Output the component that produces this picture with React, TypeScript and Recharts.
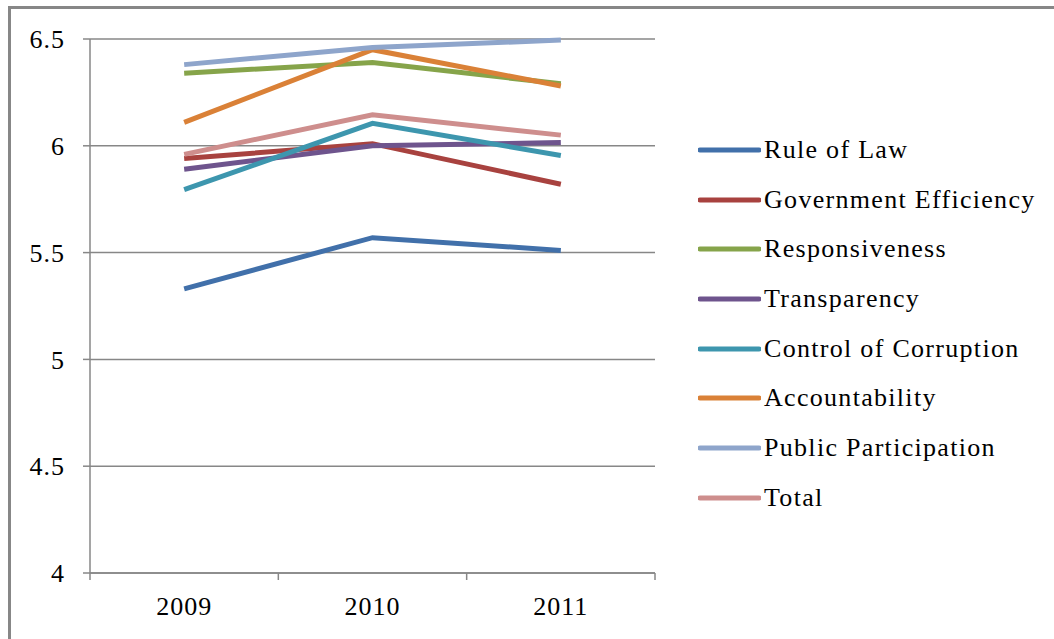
import { LineChart, Line, XAxis, YAxis, CartesianGrid, Legend } from 'recharts'

const YEARS = ['2009', '2010', '2011']
const RULE_OF_LAW = [5.33, 5.57, 5.51]
const GOV_EFFICIENCY = [5.94, 6.01, 5.82]
const RESPONSIVENESS = [6.34, 6.39, 6.29]
const TRANSPARENCY = [5.89, 6.0, 6.015]
const CONTROL_OF_CORRUPTION = [5.795, 6.105, 5.955]
const ACCOUNTABILITY = [6.11, 6.45, 6.28]
const PUBLIC_PARTICIPATION = [6.38, 6.46, 6.495]
const TOTAL = [5.96, 6.145, 6.05]
const Y_TICKS = [4, 4.5, 5, 5.5, 6, 6.5]

const SERIES = [
    { key: 'rule', name: 'Rule of Law', values: RULE_OF_LAW, color: '#4170AA' },
    { key: 'gov', name: 'Government Efficiency', values: GOV_EFFICIENCY, color: '#A8423F' },
    { key: 'resp', name: 'Responsiveness', values: RESPONSIVENESS, color: '#86A44A' },
    { key: 'trans', name: 'Transparency', values: TRANSPARENCY, color: '#6E548D' },
    { key: 'corr', name: 'Control of Corruption', values: CONTROL_OF_CORRUPTION, color: '#3D96AE' },
    { key: 'acc', name: 'Accountability', values: ACCOUNTABILITY, color: '#DA8137' },
    { key: 'pub', name: 'Public Participation', values: PUBLIC_PARTICIPATION, color: '#8EA5CB' },
    { key: 'total', name: 'Total', values: TOTAL, color: '#CE8E8D' },
]

const data = YEARS.map((year, i) => {
    const row: any = { year }
    SERIES.forEach((s) => { row[s.key] = s.values[i] })
    return row
})

const W = 1054
const H = 639
const MARGIN = { top: 39, right: 49, bottom: 0, left: 0 }
const Y_AXIS_W = 90
const LEGEND_W = 350
const PLOT_W = W - MARGIN.left - MARGIN.right - LEGEND_W - Y_AXIS_W
const STEP = PLOT_W / YEARS.length
const AXIS = '#878787'
const FONT = "'Liberation Serif', 'Times New Roman', serif"

// Excel style: tick marks sit between categories, labels in the middle
function YearTick(props: any) {
    const { x, y, payload, index } = props
    const top = y - 7
    return (
        <g>
            <line x1={x + STEP / 2} y1={top} x2={x + STEP / 2} y2={top + 7} stroke={AXIS} strokeWidth={1.5} />
            {index === 0 && <line x1={x - STEP / 2} y1={top} x2={x - STEP / 2} y2={top + 7} stroke={AXIS} strokeWidth={1.5} />}
            <text x={x} y={y} dy={35} textAnchor="middle" fontSize={26} style={{ fontFamily: FONT }} fill="#000" letterSpacing={1}>
                {payload.value}
            </text>
        </g>
    )
}

function LegendBox() {
    return (
        <div style={{ fontFamily: FONT, fontSize: 26, letterSpacing: 1.3, color: '#000' }}>
            {SERIES.map((s) => (
                <div key={s.key} style={{ height: 49.7, display: 'flex', alignItems: 'center' }}>
                    <svg width={63} height={8} style={{ marginRight: 3 }}>
                        <line x1={2} y1={4} x2={61} y2={4} stroke={s.color} strokeWidth={5} strokeLinecap="round" />
                    </svg>
                    <span style={{ whiteSpace: 'nowrap' }}>{s.name}</span>
                </div>
            ))}
        </div>
    )
}

export default function App() {
    return (
        <div style={{ position: 'absolute', left: 0, top: 0, width: W, height: H, background: '#fff', overflow: 'hidden', fontFamily: FONT }}>
            <div style={{ position: 'absolute', left: 8, top: 6, right: 0, bottom: 0, borderTop: `3px solid ${AXIS}`, borderLeft: `3px solid ${AXIS}` }} />
            <LineChart width={W} height={H} data={data} margin={MARGIN} style={{ fontFamily: FONT }}>
                <CartesianGrid horizontal vertical={false} stroke={AXIS} strokeWidth={1.5} />
                <XAxis
                    dataKey="year"
                    height={66}
                    padding={{ left: STEP / 2, right: STEP / 2 }}
                    axisLine={{ stroke: AXIS, strokeWidth: 1.5 }}
                    tickLine={false}
                    tickSize={7}
                    tickMargin={0}
                    tick={<YearTick />}
                    interval={0}
                />
                <YAxis
                    width={Y_AXIS_W}
                    domain={[4, 6.5]}
                    ticks={Y_TICKS}
                    axisLine={{ stroke: AXIS, strokeWidth: 1.5 }}
                    tickLine={{ stroke: AXIS, strokeWidth: 1.5 }}
                    tickSize={7}
                    tickMargin={18}
                    tick={{ fontSize: 26, style: { fontFamily: FONT }, fill: '#000', letterSpacing: 1 }}
                />
                <Legend
                    layout="vertical"
                    align="right"
                    verticalAlign="top"
                    width={LEGEND_W}
                    content={() => <LegendBox />}
                    wrapperStyle={{ left: 698, top: 125 }}
                />
                {SERIES.map((s) => (
                    <Line
                        key={s.key}
                        type="linear"
                        dataKey={s.key}
                        name={s.name}
                        stroke={s.color}
                        strokeWidth={5}
                        dot={false}
                        activeDot={false}
                        isAnimationActive={false}
                    />
                ))}
            </LineChart>
        </div>
    )
}
